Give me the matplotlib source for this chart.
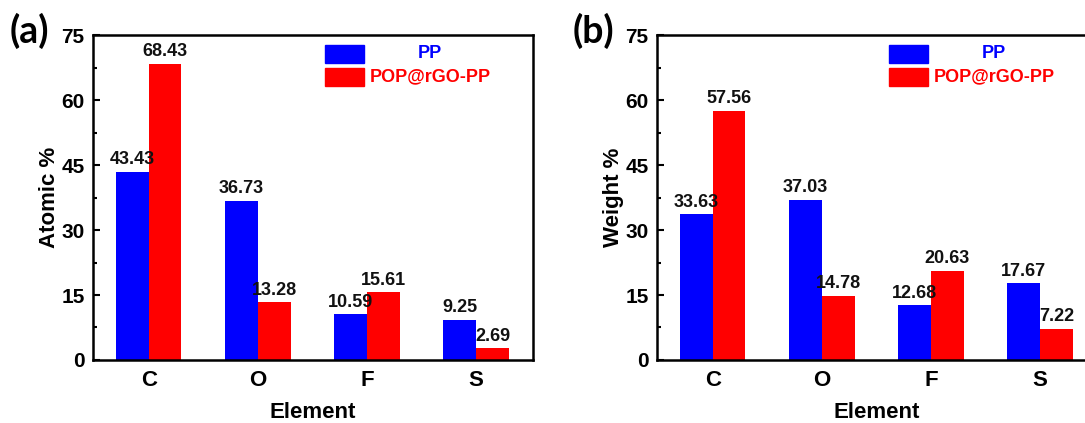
import matplotlib
matplotlib.use('Agg')
import matplotlib.pyplot as plt
import matplotlib.patches as patches
import numpy as np
from matplotlib.ticker import MultipleLocator

plt.rcParams['font.family'] = ['Liberation Sans', 'DejaVu Sans']
plt.rcParams['font.weight'] = 'bold'

elements = ['C', 'O', 'F', 'S']
series_names = ['PP', 'POP@rGO-PP']
atomic_pp = [43.43, 36.73, 10.59, 9.25]
atomic_pop = [68.43, 13.28, 15.61, 2.69]
weight_pp = [33.63, 37.03, 12.68, 17.67]
weight_pop = [57.56, 14.78, 20.63, 7.22]

c_pp = '#0000ff'
c_pop = '#ff0000'


def draw_panel(ax, pp, pop, ylabel, tag):
    x = np.arange(len(elements))
    w = 0.3
    ax.bar(x - w / 2, pp, w, color=c_pp, linewidth=0)
    ax.bar(x + w / 2, pop, w, color=c_pop, linewidth=0)
    for xi, v in zip(x - w / 2, pp):
        ax.text(xi, v + 0.8, f'{v:.2f}', ha='center', va='bottom',
                fontsize=13, fontweight='bold', color='#111111')
    for xi, v in zip(x + w / 2, pop):
        ax.text(xi, v + 0.8, f'{v:.2f}', ha='center', va='bottom',
                fontsize=13, fontweight='bold', color='#111111')

    ax.set_xlim(-0.51, 3.52)
    ax.set_ylim(0, 75)
    ax.set_xticks(x)
    ax.set_xticklabels(elements, fontsize=16, fontweight='bold')
    ax.yaxis.set_major_locator(MultipleLocator(15))
    ax.yaxis.set_minor_locator(MultipleLocator(7.5))
    ax.tick_params(axis='y', which='major', direction='in', length=5,
                   width=1.5, labelsize=15, pad=6)
    ax.tick_params(axis='y', which='minor', direction='in', length=3, width=1.5)
    ax.tick_params(axis='x', length=0, pad=7)
    for lab in ax.get_yticklabels():
        lab.set_fontweight('bold')
    for s in ax.spines.values():
        s.set_linewidth(1.8)

    ax.set_xlabel('Element', fontsize=16, fontweight='bold', labelpad=8)
    ax.set_ylabel(ylabel, fontsize=16, fontweight='bold', labelpad=1)

    # legend drawn Origin-style with centred text
    ax.add_patch(patches.Rectangle((0.528, 0.914), 0.088, 0.056,
                                   transform=ax.transAxes, color=c_pp,
                                   clip_on=False))
    ax.add_patch(patches.Rectangle((0.528, 0.843), 0.088, 0.056,
                                   transform=ax.transAxes, color=c_pop,
                                   clip_on=False))
    ax.text(0.766, 0.942, series_names[0], transform=ax.transAxes,
            ha='center', va='center', fontsize=13, fontweight='bold',
            color=c_pp)
    ax.text(0.766, 0.871, series_names[1], transform=ax.transAxes,
            ha='center', va='center', fontsize=13, fontweight='bold',
            color=c_pop)

    ax.text(-0.145, 1.012, tag, transform=ax.transAxes, ha='center',
            va='center', fontsize=27, fontweight='bold',
            family=['Lato', 'DejaVu Sans'])


fig = plt.figure(figsize=(10.85, 4.23), dpi=100, facecolor='white')
ax1 = fig.add_axes([0.0857, 0.149, 0.4055, 0.768])
ax2 = fig.add_axes([0.6055, 0.149, 0.4055, 0.768])

draw_panel(ax1, atomic_pp, atomic_pop, 'Atomic %', '(a)')
draw_panel(ax2, weight_pp, weight_pop, 'Weight %', '(b)')

fig.savefig('out.png', dpi=100, facecolor='white')
